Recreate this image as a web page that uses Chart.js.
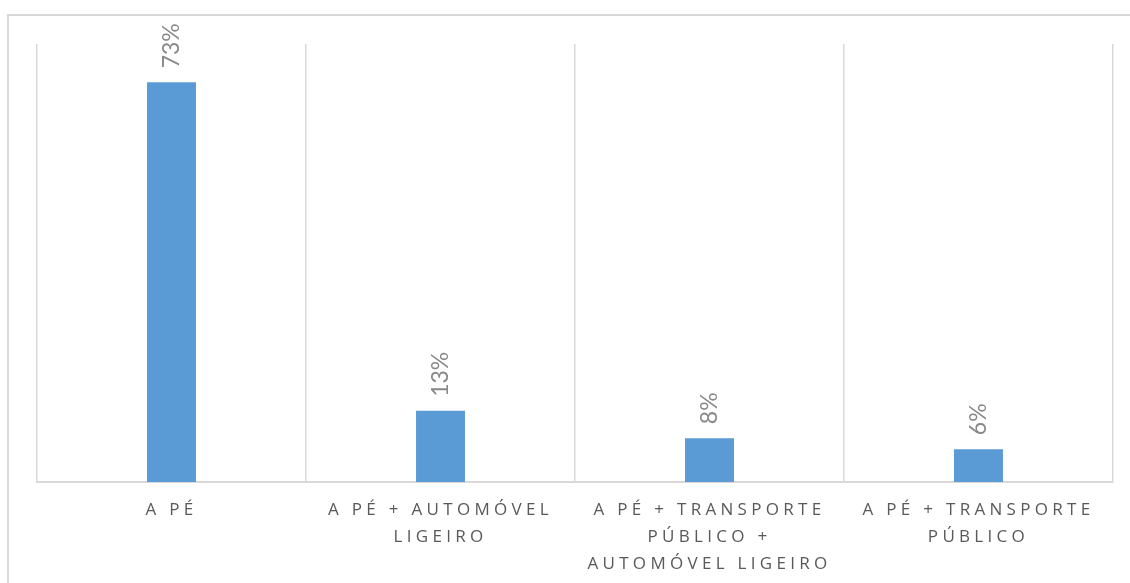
<!DOCTYPE html>
<html>
<head>
<meta charset="utf-8">
<script src="https://cdn.jsdelivr.net/npm/chart.js@4"></script>
<style>
  html, body { margin: 0; padding: 0; background: #fff; overflow: hidden; }
  #wrap { position: relative; width: 1130px; height: 583px; }
  #frame { position: absolute; left: 7px; top: 14px; width: 1200px; height: 700px; border: 2px solid #d9d9d9; box-sizing: border-box; }
  #grafico { position: absolute; left: 0; top: 0; }
</style>
</head>
<body>
<div id="wrap">
  <div id="frame"></div>
  <canvas id="grafico" width="1130" height="583"></canvas>
</div>
<script>
const categorias = [
    ['A PÉ'],
    ['A PÉ + AUTOMÓVEL', 'LIGEIRO'],
    ['A PÉ + TRANSPORTE', 'PÚBLICO +', 'AUTOMÓVEL LIGEIRO'],
    ['A PÉ + TRANSPORTE', 'PÚBLICO']
];
const valores = [73, 13, 8, 6];
const maxEixo = 80;

// rótulos de dados verticais por cima das barras
const rotulosVerticais = {
    id: 'rotulosVerticais',
    afterDatasetsDraw(chart) {
        const ctx = chart.ctx;
        const meta = chart.getDatasetMeta(0);
        ctx.save();
        ctx.letterSpacing = '0px';
        ctx.font = '23px Lato, "Open Sans", sans-serif';
        ctx.fillStyle = '#898989';
        ctx.textAlign = 'left';
        ctx.textBaseline = 'middle';
        meta.data.forEach((bar, i) => {
            ctx.save();
            ctx.translate(bar.x, bar.y - 14);
            ctx.rotate(-Math.PI / 2);
            ctx.fillText(valores[i] + '%', 0, 0);
            ctx.restore();
        });
        ctx.restore();
    }
};

const espacamento = {
    id: 'espacamento',
    beforeDraw(chart) { chart.ctx.letterSpacing = '4.3px'; },
    afterDraw(chart) { chart.ctx.letterSpacing = '0px'; }
};

new Chart(document.getElementById('grafico'), {
    type: 'bar',
    data: {
        labels: categorias,
        datasets: [{
            data: valores,
            backgroundColor: '#5b9bd5',
            barPercentage: 0.182,
            categoryPercentage: 1
        }]
    },
    options: {
        responsive: false,
        animation: false,
        events: [],
        layout: { padding: { left: 37, right: 17, top: 44, bottom: 0 } },
        plugins: {
            legend: { display: false },
            tooltip: { enabled: false }
        },
        scales: {
            x: {
                offset: true,
                afterFit: s => { s.height = 101; },
                border: { display: true, color: '#d9d9d9', width: 2 },
                grid: { display: true, offset: true, color: '#d9d9d9', lineWidth: 1.5, drawTicks: false },
                ticks: {
                    color: '#595959',
                    padding: 15,
                    maxRotation: 0,
                    autoSkip: false,
                    font: { family: '"Open Sans", sans-serif', size: 17, lineHeight: 1.57 }
                }
            },
            y: {
                display: false,
                min: 0,
                max: maxEixo
            }
        }
    },
    plugins: [espacamento, rotulosVerticais]
});
</script>
</body>
</html>
